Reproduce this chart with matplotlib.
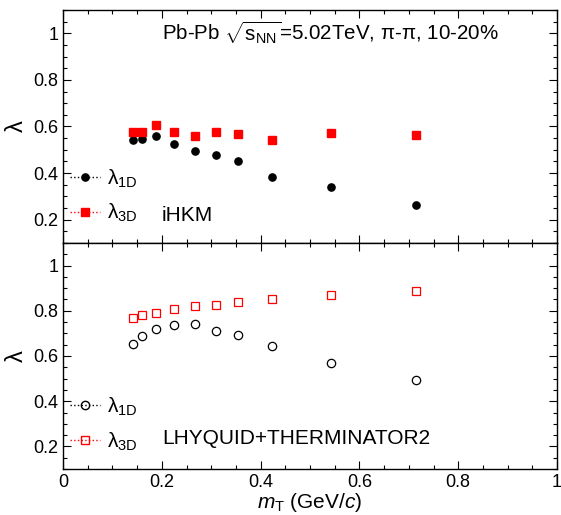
import matplotlib
matplotlib.use("Agg")
import matplotlib.pyplot as plt
from matplotlib.lines import Line2D
from matplotlib.ticker import MultipleLocator

plt.rcParams['font.family'] = ['Liberation Sans', 'DejaVu Sans']
plt.rcParams['mathtext.fontset'] = 'custom'
plt.rcParams['mathtext.rm'] = 'Liberation Sans'
plt.rcParams['mathtext.it'] = 'Liberation Sans:italic'
plt.rcParams['mathtext.sf'] = 'Liberation Sans'

# mT values (GeV/c)
mt = [0.142, 0.159, 0.188, 0.225, 0.267, 0.310, 0.355, 0.424, 0.543, 0.715]

# iHKM
ihkm_1d = [0.540, 0.545, 0.561, 0.524, 0.493, 0.477, 0.450, 0.384, 0.339, 0.263]
ihkm_3d = [0.575, 0.575, 0.606, 0.575, 0.558, 0.575, 0.567, 0.541, 0.571, 0.562]

# LHYQUID+THERMINATOR2
lhy_1d = [0.652, 0.687, 0.718, 0.736, 0.743, 0.711, 0.692, 0.645, 0.571, 0.496]
lhy_3d = [0.770, 0.783, 0.790, 0.807, 0.821, 0.825, 0.837, 0.852, 0.869, 0.887]

fig = plt.figure(figsize=(5.61, 5.15), dpi=100)
ax1 = fig.add_axes([0.1123, 0.5282, 0.8806, 0.4524])
ax2 = fig.add_axes([0.1123, 0.0893, 0.8806, 0.4389], sharex=ax1)

ax1.plot(mt, ihkm_1d, 'o', color='black', ms=5.2, ls='none')
ax1.plot(mt, ihkm_3d, 's', color='red', ms=5.5, ls='none')
ax2.plot(mt, lhy_1d, 'o', mfc='none', mec='black', mew=0.9, ms=6, ls='none')
ax2.plot(mt, lhy_3d, 's', mfc='none', mec='red', mew=0.9, ms=6, ls='none')

for ax in (ax1, ax2):
    ax.set_xlim(0, 1)
    ax.set_ylim(0.1, 1.1)
    ax.xaxis.set_major_locator(MultipleLocator(0.2))
    ax.xaxis.set_minor_locator(MultipleLocator(0.05))
    ax.yaxis.set_major_locator(MultipleLocator(0.2))
    ax.yaxis.set_minor_locator(MultipleLocator(0.05))
    ax.tick_params(which='both', direction='in', top=True, right=True, labelsize=13)
    ax.tick_params(which='major', length=6, width=0.8)
    ax.tick_params(which='minor', length=3, width=0.8)
    ax.set_yticks([0.2, 0.4, 0.6, 0.8, 1.0])
    ax.set_yticklabels(['0.2', '0.4', '0.6', '0.8', '1'])
    ax.set_ylabel('λ', fontsize=17, labelpad=4)
    for s in ax.spines.values():
        s.set_linewidth(1.0)

ax1.tick_params(labelbottom=False)
ax2.set_xticks([0, 0.2, 0.4, 0.6, 0.8, 1.0])
ax2.set_xticklabels(['0', '0.2', '0.4', '0.6', '0.8', '1'])
ax2.set_xlabel(r'$m_{\rm T}$ (GeV/$c$)', fontsize=15, labelpad=0)

ax1.text(0.2, 0.905, r'Pb-Pb $\sqrt{\mathrm{s}_{\rm NN}}$=5.02TeV, π-π, 10-20%',
         transform=ax1.transAxes, fontsize=14.8, va='center')
ax1.text(0.2, 0.12, 'iHKM', transform=ax1.transAxes, fontsize=15, va='center')
ax2.text(0.2, 0.135, 'LHYQUID+THERMINATOR2', transform=ax2.transAxes, fontsize=15, va='center')

h1 = [Line2D([], [], ls=':', lw=1, color='black', marker='o', ms=5.2),
      Line2D([], [], ls=':', lw=1, color='red', marker='s', ms=5.5)]
h2 = [Line2D([], [], ls=':', lw=1, color='black', marker='o', mfc='none', ms=6),
      Line2D([], [], ls=':', lw=1, color='red', marker='s', mfc='none', ms=6)]
labels = [r'λ$_{\rm 1D}$', r'λ$_{\rm 3D}$']
for ax, h in ((ax1, h1), (ax2, h2)):
    ax.legend(h, labels, loc='upper left', bbox_to_anchor=(0.015, 0.325), frameon=False,
              fontsize=15, handlelength=1.4, handletextpad=0.35, labelspacing=0.6,
              borderpad=0, borderaxespad=0)

fig.savefig('out.png', dpi=100)
